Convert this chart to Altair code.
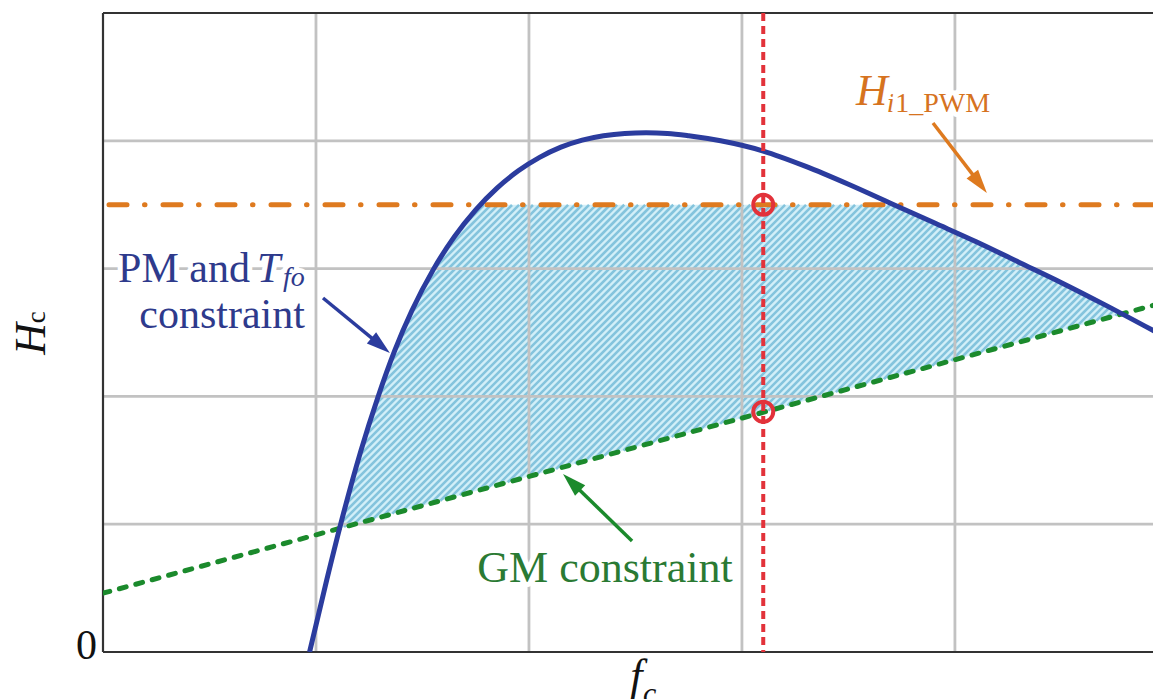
import math
import altair as alt
import numpy as np
import pandas as pd

# ---------------- data ----------------
blue_x = [0.97, 1.05, 1.13, 1.21, 1.29, 1.37, 1.45, 1.55, 1.65, 1.75, 1.85, 1.95,
          2.05, 2.15, 2.25, 2.35, 2.45, 2.55, 2.65, 2.75, 2.90, 3.10, 3.30, 3.50,
          3.70, 3.90, 4.10, 4.30, 4.50, 4.70, 4.97]
blue_y = [0.00, 0.56, 1.09, 1.57, 1.99, 2.36, 2.67, 2.99, 3.25, 3.46, 3.63, 3.765,
          3.87, 3.95, 4.005, 4.04, 4.058, 4.063, 4.058, 4.04, 4.00, 3.92, 3.80, 3.66,
          3.51, 3.36, 3.21, 3.05, 2.89, 2.72, 2.48]
green_x = [0.0, 4.97]
green_y = [0.46, 2.73]
h_pwm = [3.5]
fc_sel = [3.10]
circle_x = [3.10, 3.10]
circle_y = [3.50, 1.88]
grid_x = [1, 2, 3, 4]
grid_y = [1, 2, 3, 4]
x_domain = [0, 4.93]
y_domain = [0, 5]

# ---------------- layout ----------------
W, H = 1050, 639
KX = W / (x_domain[1] - x_domain[0])
KY = H / (y_domain[1] - y_domain[0])
XS = alt.Scale(domain=x_domain, nice=False, zero=False)
YS = alt.Scale(domain=y_domain, nice=False, zero=False)
SERIF = "Liberation Serif"

BLUE = "#2b3c9e"
ORANGE = "#de7a1f"
GREEN = "#1b8a2c"
RED = "#e2323a"
BLUE_TXT = "#2e3a8c"
GREEN_TXT = "#2a7a33"
ORANGE_TXT = "#d6731f"


def X(f="x"):
    return alt.X(f + ":Q", scale=XS, axis=None)


def Y(f="y"):
    return alt.Y(f + ":Q", scale=YS, axis=None)


layers = []

# ---------------- feasible region (fill + hatch) ----------------
xs = np.linspace(blue_x[0], blue_x[-1], 2400)
blue_i = np.interp(xs, blue_x, blue_y)
green_i = np.interp(xs, green_x, green_y)
top = np.minimum(blue_i, h_pwm[0])
mask = top > green_i
fill_df = pd.DataFrame({"x": xs[mask], "top": top[mask], "bottom": green_i[mask]})
layers.append(
    alt.Chart(fill_df).mark_area(color="#d2eff8", clip=True).encode(
        x=X(), y=Y("top"), y2="bottom:Q")
)

XP = xs * KX
rows = []
for c in np.arange(-150, 1150, 7.0):
    ys_ = (XP - c) / KY
    inside = (ys_ > green_i) & (ys_ < top)
    idx = np.where(inside)[0]
    if len(idx) < 2:
        continue
    a, b = idx[0], idx[-1]
    rows.append({"x": xs[a], "y": ys_[a], "x2": xs[b], "y2": ys_[b]})
hatch_df = pd.DataFrame(rows)
layers.append(
    alt.Chart(hatch_df).mark_rule(color="#84c4dd", strokeWidth=2.6, clip=True).encode(
        x=X(), y=Y(), x2="x2:Q", y2="y2:Q")
)

# ---------------- grid ----------------
layers.append(
    alt.Chart(pd.DataFrame({"x": grid_x})).mark_rule(color="#c2c2c2", strokeWidth=2.8).encode(x=X())
)
layers.append(
    alt.Chart(pd.DataFrame({"y": grid_y})).mark_rule(color="#c2c2c2", strokeWidth=2.8).encode(y=Y())
)

# ---------------- frame (left, bottom, top) ----------------
layers.append(
    alt.Chart(pd.DataFrame({"x": [x_domain[0]], "y": [y_domain[0]], "y2": [y_domain[1]]}))
    .mark_rule(color="#333333", strokeWidth=2.2).encode(x=X(), y=Y(), y2="y2:Q")
)
layers.append(
    alt.Chart(pd.DataFrame({"y": [y_domain[0], y_domain[1]], "x": [x_domain[0]] * 2,
                            "x2": [x_domain[1]] * 2}))
    .mark_rule(color="#333333", strokeWidth=2.2).encode(y=Y(), x=X(), x2="x2:Q")
)

# ---------------- curves ----------------
layers.append(
    alt.Chart(pd.DataFrame({"y": h_pwm})).mark_rule(
        color=ORANGE, strokeWidth=5, strokeDash=[18, 18, 0.5, 17.5], strokeCap="round").encode(y=Y())
)
layers.append(
    alt.Chart(pd.DataFrame({"x": green_x, "y": green_y})).mark_line(
        color=GREEN, strokeWidth=5, strokeDash=[7, 10], strokeCap="round", clip=True).encode(x=X(), y=Y())
)
layers.append(
    alt.Chart(pd.DataFrame({"x": blue_x, "y": blue_y})).mark_line(
        color=BLUE, strokeWidth=5, interpolate="monotone", clip=True).encode(x=X(), y=Y())
)
layers.append(
    alt.Chart(pd.DataFrame({"x": fc_sel})).mark_rule(
        color=RED, strokeWidth=4, strokeDash=[8, 5]).encode(x=X())
)
layers.append(
    alt.Chart(pd.DataFrame({"x": circle_x, "y": circle_y})).mark_point(
        shape="circle", size=400, color=RED, strokeWidth=4, filled=False, opacity=1).encode(x=X(), y=Y())
)


# ---------------- arrows ----------------
def arrow(x0, y0, tx, ty, color, size=700):
    dxp = (tx - x0) * KX
    dyp = -(ty - y0) * KY  # screen direction (y down)
    L = math.hypot(dxp, dyp)
    ux, uy = dxp / L, dyp / L
    ex = tx - 8 * ux / KX
    ey = ty + 8 * uy / KY
    ang = math.degrees(math.atan2(dxp, -dyp)) % 360
    shaft = alt.Chart(pd.DataFrame({"x": [x0], "y": [y0], "x2": [ex], "y2": [ey]})).mark_rule(
        color=color, strokeWidth=3.5).encode(x=X(), y=Y(), x2="x2:Q", y2="y2:Q")
    head = alt.Chart(pd.DataFrame({"x": [tx], "y": [ty]})).mark_point(
        shape="M0,0L0.55,1.8L-0.55,1.8Z", filled=True, color=color, strokeWidth=0,
        size=size, angle=ang, opacity=1).encode(x=X(), y=Y())
    return [shaft, head]


layers += arrow(1.033, 2.770, 1.347, 2.340, BLUE)
layers += arrow(3.897, 4.139, 4.150, 3.592, ORANGE)
layers += arrow(2.484, 0.869, 2.160, 1.393, GREEN)


# ---------------- texts ----------------
def label(txt, x, y, size, color, italic=False, align="left", angle=None, halo=False):
    df = pd.DataFrame({"x": [x], "y": [y], "t": [txt]})
    kw = dict(font=SERIF, fontSize=size, align=align, baseline="alphabetic",
              fontStyle="italic" if italic else "normal")
    if angle is not None:
        kw["angle"] = angle
    enc = dict(x=X(), y=Y(), text="t:N")
    out = []
    if halo:
        out.append(alt.Chart(df).mark_text(color="white", stroke="white", strokeWidth=10,
                                           strokeJoin="round", **kw).encode(**enc))
    out.append(alt.Chart(df).mark_text(color=color, **kw).encode(**enc))
    return out


# tick label "0"
layers += label("0", -0.028, -0.055, 42, "#111111", align="right")
# axis titles
layers += label("H", -0.272, 2.45, 44, "#111111", italic=True, align="center", angle=270)
layers += label("c", -0.272, 2.62, 27, "#111111", align="center", angle=270)
layers += label("f", 2.476, -0.297, 44, "#111111", italic=True)
layers += label("c", 2.535, -0.40, 30, "#111111", italic=True)
# PM and T_fo constraint
layers += label("PM and", 0.690, 2.895, 42, BLUE_TXT, align="right", halo=True)
layers += label("T", 0.723, 2.895, 42, BLUE_TXT, italic=True, halo=True)
layers += label("fo", 0.845, 2.864, 28, BLUE_TXT, italic=True, halo=True)
layers += label("constraint", 0.559, 2.535, 42, BLUE_TXT, align="center", halo=True)
# GM constraint
layers += label("GM constraint", 2.357, 0.548, 44, GREEN_TXT, align="center", halo=True)
# H_i1_PWM
layers += label("H", 3.535, 4.280, 44, ORANGE_TXT, italic=True, halo=True)
layers += label("i", 3.680, 4.225, 28, ORANGE_TXT, italic=True, halo=True)
layers += label("1_PWM", 3.720, 4.225, 28, ORANGE_TXT, halo=True)

chart = (
    alt.layer(*layers)
    .properties(width=W, height=H,
                autosize=alt.AutoSizeParams(type="none"),
                padding={"left": 95, "top": 5, "right": 0, "bottom": 47},
                background="white")
    .configure_view(stroke="transparent")
)
chart.save("out.html", embed_options={"renderer": "svg", "actions": False})
